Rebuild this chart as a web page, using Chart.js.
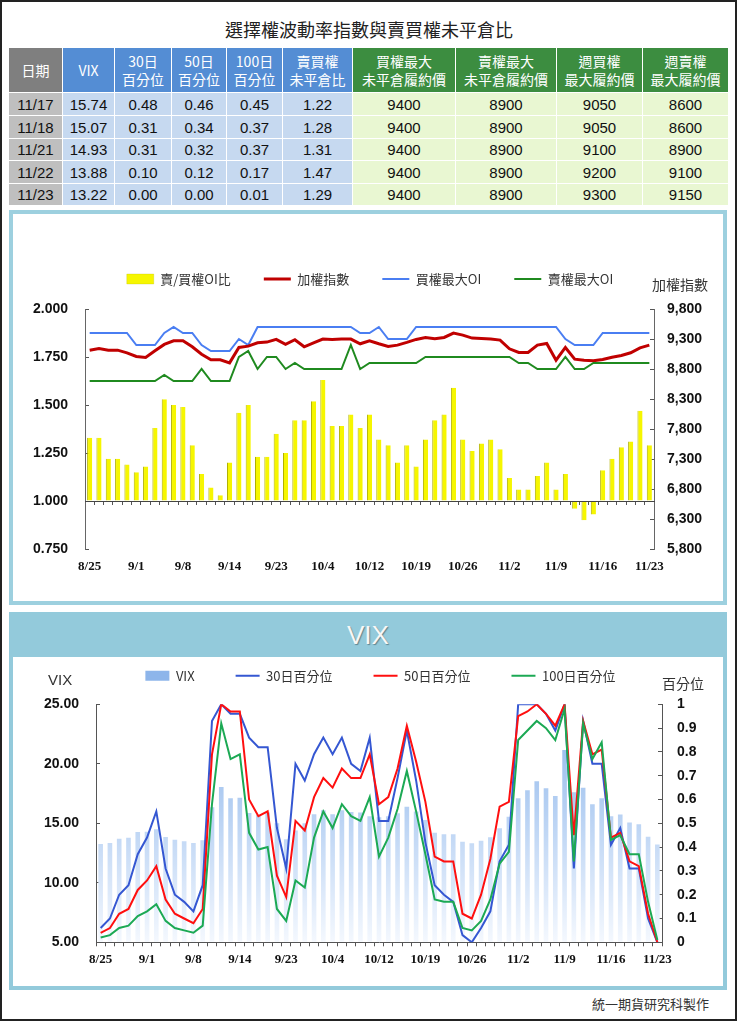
<!DOCTYPE html>
<html><head><meta charset="utf-8">
<script src="https://cdn.jsdelivr.net/npm/chart.js@4.4.0/dist/chart.umd.min.js"></script>
<style>
body{margin:0;background:#fff;}
#page{position:relative;width:738px;height:1024px;overflow:hidden;background:#fff;font-family:"Liberation Sans","Noto Sans CJK TC",sans-serif;}
.abs{position:absolute;}
#frame{left:0;top:0;width:737px;height:1021px;border:2px solid #222;box-sizing:border-box;}
#title{left:0;width:738px;top:17px;text-align:center;font-size:18px;line-height:24px;color:#222;font-family:"Noto Sans CJK TC",sans-serif;}
#tbl{position:absolute;left:8px;top:47px;border-collapse:collapse;table-layout:fixed;width:720px;}
#tbl td{border:1px solid #fff;padding:0;text-align:center;white-space:nowrap;overflow:hidden;}
#tbl tr.hd td{font-family:"Noto Sans CJK TC",sans-serif;font-size:14px;line-height:18px;color:#fff;}
#tbl tr.dr td{font-family:"Liberation Sans",sans-serif;font-size:15px;color:#111;}
.hg{background:#7f7f7f}.hb{background:#548dd4}.hn{background:#3c8d40}
.dg{background:#bfbfbf}.db{background:#c6d9f0}.dn{background:#e9f7d2}
#panel1{left:9px;top:210px;width:718px;height:395px;border:4px solid #9dd0df;box-sizing:border-box;}
#panel2{left:9px;top:612px;width:718px;height:378px;border:4px solid #93cadb;box-sizing:border-box;background:#fff;}
#hdr2{left:9px;top:612px;width:718px;height:45px;background:#93cadb;}
#hdr2txt{left:9px;top:619px;width:718px;text-align:center;font-size:26px;line-height:32px;color:#f7f7f7;text-shadow:1px 1px 1px rgba(0,0,0,0.35);font-family:"Liberation Sans",sans-serif;}
.axt{font-family:"Noto Sans CJK TC",sans-serif;color:#333;white-space:nowrap;}
canvas{position:absolute;}
</style>
</head><body>
<div id="page">
  <div id="frame" class="abs"></div>
  <div id="title" class="abs">選擇權波動率指數與賣買權未平倉比</div>
  <table id="tbl"></table>
  <div id="panel1" class="abs"></div>
  <canvas id="c1" width="710" height="388" style="left:13px;top:214px;"></canvas>
  <div class="abs axt" style="left:652px;top:275px;font-size:14px;line-height:18px;">加權指數</div>
  <div id="panel2" class="abs"></div>
  <div id="hdr2" class="abs"></div>
  <div id="hdr2txt" class="abs">VIX</div>
  <canvas id="c2" width="710" height="367" style="left:13px;top:620px;"></canvas>
  <div class="abs axt" style="left:48px;top:670px;font-size:15px;line-height:20px;font-family:'Liberation Sans',sans-serif;">VIX</div>
  <div class="abs axt" style="left:662px;top:674px;font-size:14px;line-height:18px;">百分位</div>
  <div class="abs axt" style="left:592px;top:995px;font-size:13px;line-height:18px;">統一期貨研究科製作</div>
</div>
<script>
// ---------------- data ----------------
const dates = ['8/25','8/26','8/29','8/30','8/31','9/1','9/2','9/5','9/6','9/7',
  '9/8','9/9','9/10','9/12','9/13','9/14','9/19','9/20','9/21','9/22',
  '9/23','9/26','9/29','9/30','10/3','10/4','10/5','10/6','10/7','10/11',
  '10/12','10/13','10/14','10/17','10/18','10/19','10/20','10/21','10/24','10/25',
  '10/26','10/27','10/28','10/31','11/1','11/2','11/3','11/4','11/7','11/8',
  '11/9','11/10','11/11','11/14','11/15','11/16','11/17','11/18','11/21','11/22',
  '11/23'];
const pcRatio = [1.33,1.33,1.22,1.22,1.19,1.15,1.18,1.38,1.53,1.50,
  1.49,1.29,1.14,1.07,1.03,1.20,1.46,1.50,1.23,1.23,
  1.35,1.25,1.42,1.42,1.52,1.63,1.39,1.39,1.45,1.38,
  1.45,1.32,1.29,1.20,1.29,1.18,1.32,1.42,1.45,1.59,
  1.32,1.26,1.30,1.32,1.27,1.12,1.06,1.06,1.13,1.20,
  1.06,1.14,0.96,0.90,0.93,1.16,1.22,1.28,1.31,1.47,
  1.29];
const taiex = [9114,9143,9114,9114,9070,9009,8992,9103,9210,9270,
  9270,9170,9047,8953,8953,8902,9159,9181,9237,9248,
  9293,9210,9287,9170,9237,9298,9293,9298,9298,9220,
  9270,9220,9176,9198,9243,9293,9326,9304,9326,9399,
  9365,9315,9310,9300,9282,9137,9076,9076,9198,9226,
  8947,9159,8964,8947,8936,8958,8997,9025,9070,9153,
  9198];
const callMaxOI = [9400,9400,9400,9400,9400,9200,9200,9200,9400,9500,
  9400,9400,9200,9100,9100,9100,9300,9200,9500,9500,
  9500,9500,9500,9500,9500,9500,9500,9500,9500,9400,
  9400,9500,9300,9300,9300,9500,9500,9500,9500,9500,
  9500,9500,9500,9500,9500,9500,9500,9500,9500,9500,
  9500,9300,9200,9200,9200,9400,9400,9400,9400,9400,
  9400];
const putMaxOI = [8600,8600,8600,8600,8600,8600,8600,8600,8700,8600,
  8600,8600,8800,8600,8600,8600,9000,9100,8800,9000,
  9000,8800,8900,8800,8800,8800,8800,8800,9200,8800,
  8900,8900,8900,8900,8900,8900,9000,9000,9000,9000,
  9000,9000,9000,9000,9000,9000,8900,8900,8800,8800,
  8800,9000,8800,8800,8900,8900,8900,8900,8900,8900,
  8900];
const vix = [13.26,13.34,13.71,13.79,14.27,14.30,14.50,13.85,13.62,13.49,
  13.34,13.57,16.34,18.05,17.10,17.15,15.87,15.70,15.90,15.00,
  13.65,14.40,15.00,15.76,16.10,15.76,16.10,15.95,15.90,15.60,
  15.50,15.60,15.84,16.40,16.00,15.28,14.20,14.07,14.07,13.46,
  13.32,13.54,13.82,14.58,15.55,17.10,17.77,18.53,17.94,17.30,
  21.16,17.60,17.99,16.60,17.10,15.60,15.74,15.07,14.93,13.88,
  13.22];
const pct30 = [0.06,0.10,0.20,0.24,0.37,0.44,0.55,0.31,0.20,0.17,
  0.13,0.24,0.93,1.00,0.96,0.96,0.86,0.82,0.82,0.48,
  0.31,0.75,0.68,0.79,0.86,0.79,0.86,0.75,0.72,0.86,
  0.51,0.51,0.69,0.89,0.68,0.42,0.24,0.20,0.17,0.03,
  0.00,0.06,0.13,0.34,0.41,1.00,1.00,1.00,0.96,0.89,
  1.00,0.31,0.93,0.75,0.75,0.41,0.48,0.31,0.31,0.10,
  0.00];
const pct50 = [0.04,0.06,0.12,0.14,0.22,0.26,0.32,0.18,0.12,0.10,
  0.08,0.14,0.79,1.00,0.97,0.97,0.60,0.53,0.55,0.28,
  0.19,0.51,0.47,0.61,0.69,0.65,0.73,0.69,0.69,0.79,
  0.58,0.61,0.73,0.91,0.76,0.59,0.36,0.34,0.34,0.12,
  0.10,0.20,0.35,0.57,0.59,0.95,0.97,1.00,0.96,0.91,
  1.00,0.45,0.93,0.79,0.81,0.44,0.46,0.34,0.32,0.12,
  0.00];
const pct100 = [0.02,0.03,0.06,0.07,0.11,0.13,0.16,0.09,0.06,0.05,
  0.04,0.07,0.58,0.92,0.77,0.79,0.46,0.39,0.40,0.14,
  0.09,0.26,0.23,0.44,0.55,0.48,0.58,0.53,0.51,0.61,
  0.36,0.44,0.56,0.72,0.55,0.37,0.18,0.17,0.17,0.06,
  0.05,0.09,0.18,0.33,0.38,0.85,0.89,0.93,0.90,0.85,
  0.98,0.34,0.92,0.77,0.84,0.43,0.45,0.37,0.37,0.17,
  0.01];
const weeklyCallStrike = [9050,9050,9100,9200,9300];
const weeklyPutStrike = [8600,8600,8900,9100,9150];
const tableHeaders = [['日期','hg','dg'],['VIX','hb','db'],['30日<br>百分位','hb','db'],['50日<br>百分位','hb','db'],
  ['100日<br>百分位','hb','db'],['賣買權<br>未平倉比','hb','db'],['買權最大<br>未平倉履約價','hn','dn'],
  ['賣權最大<br>未平倉履約價','hn','dn'],['週買權<br>最大履約價','hn','dn'],['週賣權<br>最大履約價','hn','dn']];
const tableRowCount = 5;

// ---------------- table ----------------
(function buildTable(){
  const colW = [54,52,57,55,56,70,103,101,86,86];
  const rowH = [23,23,22,23,22];
  let h = '<colgroup>' + colW.map(w => '<col style="width:'+w+'px">').join('') + '</colgroup>';
  h += '<tr class="hd" style="height:45px">' + tableHeaders.map(c => '<td class="'+c[1]+'">'+c[0]+'</td>').join('') + '</tr>';
  const n = dates.length;
  for (let k = 0; k < tableRowCount; k++) {
    const i = n - tableRowCount + k;
    const vals = [dates[i], vix[i].toFixed(2), pct30[i].toFixed(2), pct50[i].toFixed(2), pct100[i].toFixed(2),
      pcRatio[i].toFixed(2), callMaxOI[i], putMaxOI[i], weeklyCallStrike[k], weeklyPutStrike[k]];
    h += '<tr class="dr" style="height:'+rowH[k]+'px">' + vals.map((v, j) => '<td class="'+tableHeaders[j][2]+'">'+v+'</td>').join('') + '</tr>';
  }
  document.getElementById('tbl').innerHTML = h;
})();

// ---------------- charts ----------------
Chart.defaults.font.family = '"Liberation Sans","Noto Sans CJK TC",sans-serif';
Chart.defaults.color = '#222';
const tickFontY = {family:'"Liberation Sans",sans-serif', size:14, weight:'bold'};
const tickFontX = {family:'"Liberation Serif",serif', size:13, weight:'bold'};
const legendFont = {family:'"Noto Sans CJK TC","Liberation Sans",sans-serif', size:13};

function legendGap(extra){
  return { id:'legendGap', beforeLayout(chart){
    const lg = chart.legend;
    if (lg && !lg._gapPatched) {
      const fit = lg.fit;
      lg.fit = function(){ fit.apply(this, arguments); this.height += extra; };
      lg._gapPatched = true;
    }
  }};
}
const fixWidth = w => s => { s.width = w; };
const fixHeight = h => s => { s.height = h; };
function every5(v, i){ return i % 5 === 0 ? this.getLabelForValue(v) : ''; }
const byIndex = (a, b) => a.datasetIndex - b.datasetIndex;

new Chart(document.getElementById('c1'), {
  type:'bar',
  data:{ labels:dates, datasets:[
    {type:'bar', label:'賣/買權OI比', data:pcRatio, xAxisID:'x', yAxisID:'y', base:1,
     backgroundColor:'#f6f600', borderColor:'#b0b000', borderWidth:{left:1,right:0,top:0,bottom:0}, borderSkipped:false,
     barPercentage:0.55, categoryPercentage:1, order:10, pointStyle:'rect'},
    {type:'line', label:'加權指數', data:taiex, xAxisID:'x', yAxisID:'y1', borderColor:'#c00000', backgroundColor:'#c00000',
     borderWidth:3, pointRadius:0, tension:0, order:2, pointStyle:'line'},
    {type:'line', label:'買權最大OI', data:callMaxOI, xAxisID:'x', yAxisID:'y1', borderColor:'#4a7ef2', backgroundColor:'#4a7ef2',
     borderWidth:2, pointRadius:0, tension:0, order:3, pointStyle:'line'},
    {type:'line', label:'賣權最大OI', data:putMaxOI, xAxisID:'x', yAxisID:'y1', borderColor:'#1f8a1f', backgroundColor:'#1f8a1f',
     borderWidth:2, pointRadius:0, tension:0, order:1, pointStyle:'line'}
  ]},
  options:{
    responsive:false, animation:false, events:[],
    layout:{padding:{top:25.5,left:4,right:0,bottom:0}},
    plugins:{
      tooltip:{enabled:false},
      legend:{position:'top', labels:{usePointStyle:true, pointStyleWidth:27, boxHeight:10, padding:33, font:legendFont, color:'#333', sort:byIndex}}
    },
    scales:{
      x:{type:'category', position:'bottom', offset:true, grid:{display:false, drawTicks:false}, border:{display:false},
         ticks:{autoSkip:false, maxRotation:0, padding:10, font:tickFontX, color:'#111', callback:every5}, afterFit:fixHeight(53)},
      xb:{type:'category', axis:'x', position:{y:1}, offset:true,
          grid:{offset:true, drawOnChartArea:false, tickLength:3, color:'#555'},
          border:{display:true, color:'#444', width:1, z:1}, ticks:{display:false}},
      y:{position:'left', min:0.75, max:2,
         ticks:{stepSize:0.25, padding:21, font:tickFontY, color:'#111', callback:v => v.toFixed(3)},
         grid:{drawOnChartArea:false, tickLength:-4, tickColor:'#555'}, border:{color:'#666'}, afterFit:fixWidth(68)},
      y1:{position:'right', min:5800, max:9800,
          ticks:{stepSize:500, padding:17, font:tickFontY, color:'#111', callback:v => v.toLocaleString('en-US')},
          grid:{drawOnChartArea:false, tickLength:-4, tickColor:'#555'}, border:{color:'#666'}, afterFit:fixWidth(69)}
    }
  },
  plugins:[legendGap(13.5)]
});

const vixFill = (ctx) => {
  const ch = ctx.chart, a = ch.chartArea;
  if (!a) return '#b7d1f3';
  const g = ch.ctx.createLinearGradient(0, a.top, 0, a.bottom);
  g.addColorStop(0, '#8db5ea');
  g.addColorStop(0.45, '#b7d1f3');
  g.addColorStop(1, '#f4f8fe');
  return g;
};

new Chart(document.getElementById('c2'), {
  type:'bar',
  data:{ labels:dates, datasets:[
    {type:'bar', label:'VIX', data:vix, xAxisID:'x', yAxisID:'y', base:5, backgroundColor:vixFill,
     barPercentage:0.5, categoryPercentage:1, order:10, pointStyle:'rect'},
    {type:'line', label:'30日百分位', data:pct30, xAxisID:'x', yAxisID:'y1', borderColor:'#3557d2', backgroundColor:'#3557d2',
     borderWidth:2, pointRadius:0, tension:0, order:3, pointStyle:'line'},
    {type:'line', label:'50日百分位', data:pct50, xAxisID:'x', yAxisID:'y1', borderColor:'#ff0f0f', backgroundColor:'#ff0f0f',
     borderWidth:2, pointRadius:0, tension:0, order:2, pointStyle:'line'},
    {type:'line', label:'100日百分位', data:pct100, xAxisID:'x', yAxisID:'y1', borderColor:'#1ca954', backgroundColor:'#1ca954',
     borderWidth:2, pointRadius:0, tension:0, order:1, pointStyle:'line'}
  ]},
  options:{
    responsive:false, animation:false, events:[],
    layout:{padding:{top:8.2,left:25,right:0,bottom:0}},
    plugins:{
      tooltip:{enabled:false},
      legend:{position:'top', labels:{usePointStyle:true, pointStyleWidth:24, boxHeight:10, padding:41, font:legendFont, color:'#333', sort:byIndex}}
    },
    scales:{
      x:{type:'category', position:'bottom', offset:true,
         grid:{offset:true, drawOnChartArea:false, tickLength:4, color:'#555'}, border:{color:'#555'},
         ticks:{autoSkip:false, maxRotation:0, padding:6, font:tickFontX, color:'#111', callback:every5}, afterFit:fixHeight(44.7)},
      y:{position:'left', min:5, max:25,
         ticks:{stepSize:5, padding:21, font:tickFontY, color:'#111', callback:v => v.toFixed(2)},
         grid:{drawOnChartArea:false, tickLength:-4, tickColor:'#555'}, border:{color:'#555'}, afterFit:fixWidth(58)},
      y1:{position:'right', min:0, max:1,
          ticks:{stepSize:0.1, padding:19, font:tickFontY, color:'#111', callback:v => String(Math.round(v*10)/10)},
          grid:{drawOnChartArea:false, tickLength:-4, tickColor:'#555'}, border:{color:'#555'}, afterFit:fixWidth(61)}
    }
  },
  plugins:[legendGap(12.1)]
});
</script>
</body></html>
